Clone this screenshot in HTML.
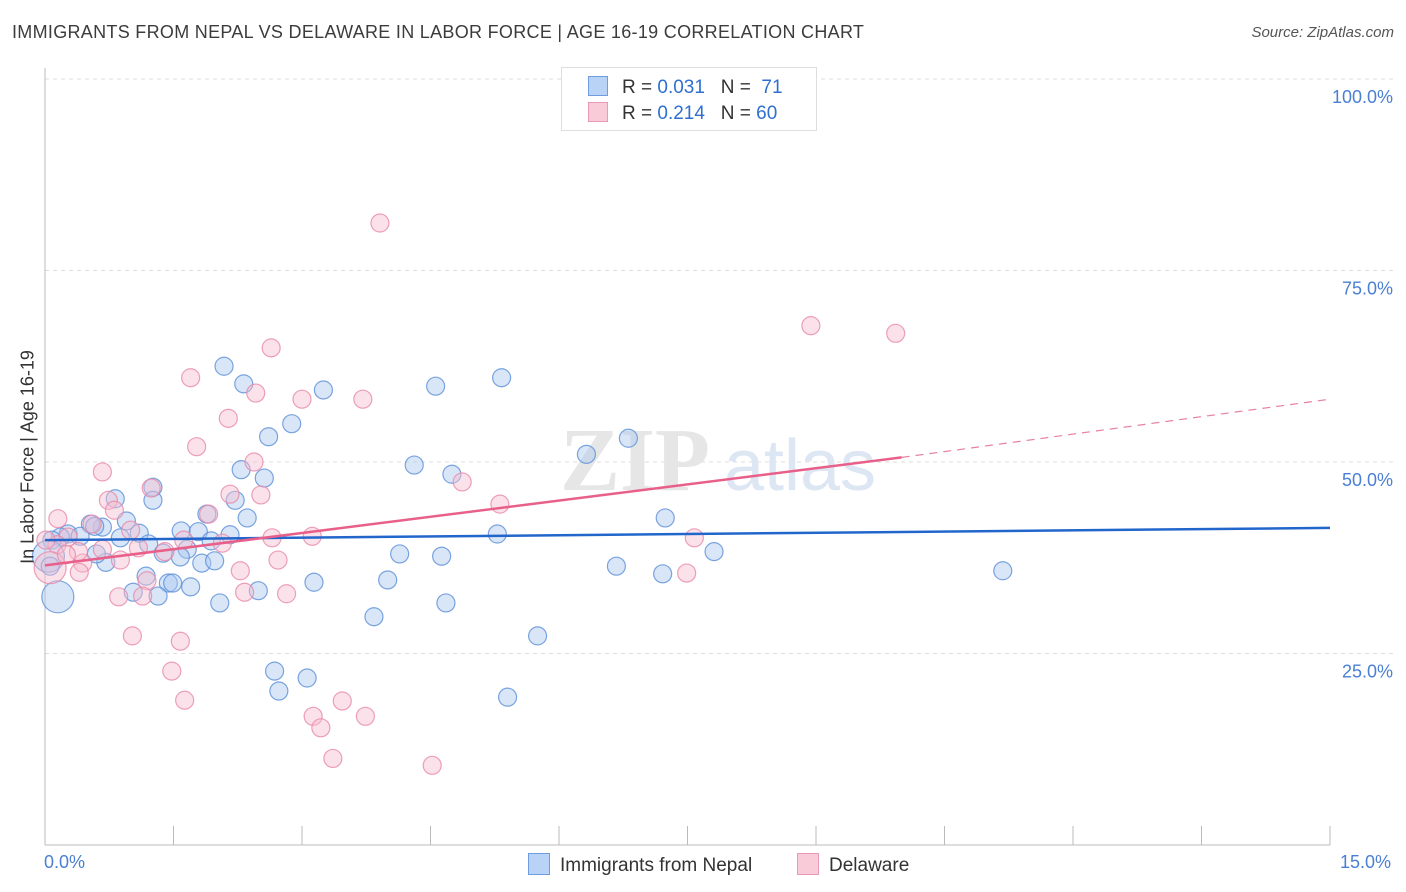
<!DOCTYPE html>
<html><head><meta charset="utf-8"><style>
body{margin:0;background:#fff;font-family:"Liberation Sans",sans-serif;}
#wrap{position:relative;width:1406px;height:892px;overflow:hidden;}
.t{position:absolute;white-space:nowrap;}
</style></head><body>
<div id="wrap">
<div class="t" style="left:12px;top:22px;font-size:18px;letter-spacing:0.3px;color:#3c3c3c;">IMMIGRANTS FROM NEPAL VS DELAWARE IN LABOR FORCE | AGE 16-19 CORRELATION CHART</div>
<div class="t" style="right:12px;top:24px;font-size:15px;color:#555;font-style:italic;">Source: ZipAtlas.com</div>
<svg id="svg" width="1406" height="892" style="position:absolute;left:0;top:0"></svg>
</div>
<script>
const blueX=[2.09,2.32,2.61,2.88,3.25,4.56,5.33,6.81,6.32,4.31,4.75,2.29,2.56,1.26,0.82,1.26,2.22,1.89,2.36,0.95,7.24,0.67,0.53,0.27,0.41,0.18,0.08,1.10,1.59,1.79,2.16,1.94,1.21,1.66,1.38,1.58,1.83,1.98,0.71,0.60,4.14,4.63,5.28,7.81,6.67,7.21,11.18,1.18,1.44,1.49,1.70,3.14,4.00,1.03,1.32,2.04,2.49,4.68,3.84,5.75,2.68,2.73,3.06,5.40,0.15,0.04,0.06,0.88,0.58];
const blueY=[62.5,60.2,53.3,55.0,59.4,59.9,61.0,53.1,51.0,49.6,48.4,49.0,47.9,46.7,45.2,45.0,45.0,43.2,42.7,42.3,42.7,41.5,41.9,40.6,40.3,40.2,39.8,40.7,41.0,40.9,40.5,39.7,39.3,38.6,38.1,37.6,36.8,37.1,36.9,38.0,38.0,37.7,40.6,38.3,36.4,35.4,35.8,35.1,34.2,34.2,33.7,34.3,34.6,33.0,32.5,31.6,33.2,31.6,29.8,27.3,22.7,20.1,21.8,19.3,32.4,37.7,36.4,40.1,41.6];
const blueBig=[64,65];
const pinkX=[3.91,8.94,9.93,2.64,1.70,2.46,3.00,3.71,2.14,1.77,2.44,0.67,4.87,1.24,0.74,2.52,2.16,5.31,1.91,0.81,0.15,0.55,1.00,0.27,0.14,0.67,1.62,1.40,1.09,2.65,3.12,2.07,7.58,2.28,2.72,0.88,0.44,0.40,0.39,1.19,2.33,2.82,0.86,1.14,7.49,1.02,1.58,1.48,1.63,3.13,3.22,3.47,3.74,3.36,4.52,0.06,0.01,0.25];
const pinkY=[81.2,67.8,66.8,64.9,61.0,59.0,58.2,58.2,55.7,52.0,50.0,48.7,47.4,46.6,45.0,45.7,45.8,44.5,43.2,43.7,42.6,41.9,41.1,40.2,39.2,38.6,39.8,38.3,38.8,40.1,40.3,39.4,40.1,35.8,37.2,37.2,36.8,35.6,38.3,34.5,33.0,32.8,32.4,32.5,35.5,27.3,26.6,22.7,18.9,16.8,15.3,18.8,16.8,11.3,10.4,36.2,39.8,37.9];
const pinkBig=[55];
const blueTrend=[[0,39.8],[15,41.4]];
const pinkTrend=[[0,36.5],[10,50.6],[15,58.2]];
const xTicks=[0,1.5,3,4.5,6,7.5,9,10.5,12,13.5,15];
const yTicks=[25,50,75,100];
const yTickLabels=["25.0%","50.0%","75.0%","100.0%"];

const NS="http://www.w3.org/2000/svg";
const svg=document.getElementById('svg');
const X=v=>45+v/15*1285;
const Y=v=>845-v/100*766;
function mk(tag,attrs,parent){const e=document.createElementNS(NS,tag);for(const k in attrs)e.setAttribute(k,attrs[k]);(parent||svg).appendChild(e);return e;}

yTicks.forEach((v,i)=>{
 const g=mk('line',{x1:45,x2:1395,y1:Y(v),y2:Y(v),stroke:'#ddd','stroke-dasharray':'4,4'});
 
 
 const t=mk('text',{x:1393,y:Y(v)+24,'text-anchor':'end','font-size':18,fill:'#4a7fd4','font-family':'Liberation Sans, sans-serif'});
 t.textContent=yTickLabels[i];
 
 
});
const ya=mk('line',{x1:45,x2:45,y1:68,y2:845,stroke:'#bbb'});


const xa=mk('line',{x1:45,x2:1330,y1:845,y2:845,stroke:'#bbb'});


xTicks.forEach(v=>{
 const l=mk('line',{x1:X(v),x2:X(v),y1:826,y2:845,stroke:'#bbb'});
 
 
});
const wm=mk('text',{x:635,y:490,'text-anchor':'middle','font-size':90,fill:'#e6e6e6','font-family':'Liberation Serif, serif','font-weight':'bold'});
wm.textContent='ZIP';


const wm2=mk('text',{x:800,y:490,'text-anchor':'middle','font-size':72,fill:'#dde6f3','font-family':'Liberation Sans, sans-serif'});
wm2.textContent='atlas';



function dots(xs,ys,big,fill,stroke,name){
 xs.forEach((x,i)=>{
  const r=big.includes(i)?16:9;
  const c=mk('circle',{cx:X(x),cy:Y(ys[i]),r:r,fill:fill,'fill-opacity':0.45,stroke:stroke,'stroke-opacity':0.8,'stroke-width':1.2});
  
  
 });
}
dots(blueX,blueY,blueBig,'#a9c8f0','#5b8fd8','nepal-point');
dots(pinkX,pinkY,pinkBig,'#f7bfd0','#e888a8','delaware-point');

const bt=mk('line',{x1:X(blueTrend[0][0]),y1:Y(blueTrend[0][1]),x2:X(blueTrend[1][0]),y2:Y(blueTrend[1][1]),stroke:'#2266cc','stroke-width':2.5});


const pt=mk('line',{x1:X(pinkTrend[0][0]),y1:Y(pinkTrend[0][1]),x2:X(pinkTrend[1][0]),y2:Y(pinkTrend[1][1]),stroke:'#e8608a','stroke-width':2.5});


const pd=mk('line',{x1:X(pinkTrend[1][0]),y1:Y(pinkTrend[1][1]),x2:X(pinkTrend[2][0]),y2:Y(pinkTrend[2][1]),stroke:'#e8809f','stroke-width':1.2,'stroke-dasharray':'8,6'});


</script>
<div class="t" style="left:28px;top:457px;font-size:18px;color:#333;transform:translate(-50%,-50%) rotate(-90deg);">In Labor Force | Age 16-19</div>
<div class="t" style="left:44px;top:852px;font-size:18px;color:#4a7fd4;">0.0%</div>
<div class="t" style="left:1340px;top:852px;font-size:18px;color:#4a7fd4;">15.0%</div>
<div style="position:absolute;left:561px;top:67px;width:254px;height:62px;border:1px solid #ddd;background:#fff;font-size:19px;color:#333;">
 <div style="position:absolute;left:26px;top:8px;white-space:nowrap;"><span style="display:inline-block;width:18px;height:18px;background:#b8d3f5;border:1px solid #6f9de0;vertical-align:-3px;margin-right:14px;"></span>R = <span style="color:#2f6fd0">0.031</span>&nbsp;&nbsp;&nbsp;N = &nbsp;<span style="color:#2f6fd0">71</span></div>
 <div style="position:absolute;left:26px;top:34px;white-space:nowrap;"><span style="display:inline-block;width:18px;height:18px;background:#f9cbd9;border:1px solid #e89ab4;vertical-align:-3px;margin-right:14px;"></span>R = <span style="color:#2f6fd0">0.214</span>&nbsp;&nbsp;&nbsp;N = <span style="color:#2f6fd0">60</span></div>
</div>
<div style="position:absolute;left:528px;top:853px;font-size:19px;color:#333;white-space:nowrap;"><span style="display:inline-block;width:20px;height:20px;background:#b8d3f5;border:1px solid #6f9de0;vertical-align:-4px;margin-right:10px;"></span>Immigrants from Nepal</div>
<div style="position:absolute;left:797px;top:853px;font-size:19px;color:#333;white-space:nowrap;"><span style="display:inline-block;width:20px;height:20px;background:#f9cbd9;border:1px solid #e89ab4;vertical-align:-4px;margin-right:10px;"></span>Delaware</div>
</body></html>
